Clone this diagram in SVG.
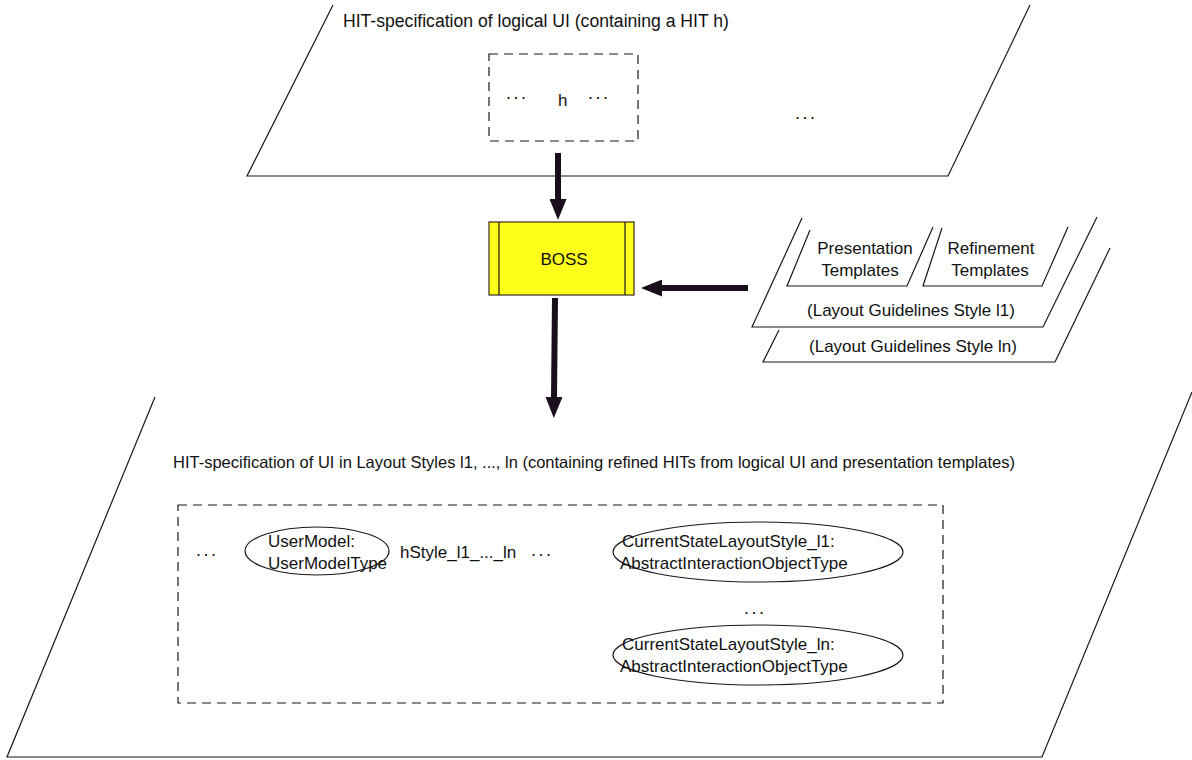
<svg xmlns="http://www.w3.org/2000/svg" width="1192" height="760" viewBox="0 0 1192 760">
<defs>
<style>
.ln{fill:none;stroke:#1e1420;stroke-width:1.2}
.dash{fill:none;stroke:#1e1420;stroke-width:1.2;stroke-dasharray:9,6}
.t{font-family:"Liberation Sans",Arial,sans-serif;font-size:17px;fill:#111}
.tc{font-family:"Liberation Sans",Arial,sans-serif;font-size:17px;fill:#111;text-anchor:middle}
.dots{font-family:"Liberation Sans",Arial,sans-serif;font-size:18px;fill:#111;letter-spacing:2.5px}
.arr{stroke:#1a0d1c;stroke-width:6;fill:none}
</style>
<marker id="ah" markerUnits="userSpaceOnUse" markerWidth="21" markerHeight="17" viewBox="0 0 21 17" refX="1" refY="8.5" orient="auto">
<path d="M0,0 L21,8.5 L0,17 z" fill="#1a0d1c"/>
</marker>
</defs>
<rect width="1192" height="760" fill="#fff"/>

<g id="logical-ui">
<polyline class="ln" points="333,5 247,176 948,176 1030,5"/>
<text class="t" x="343" y="27" style="font-size:17.6px">HIT-specification of logical UI (containing a HIT h)</text>
<rect class="dash" x="489" y="54" width="149" height="87"/>
<text class="dots" x="506" y="99">...</text>
<text class="t" x="558" y="106">h</text>
<text class="dots" x="588" y="99">...</text>
<text class="dots" x="795" y="119">...</text>
</g>

<g id="boss">
<rect x="489" y="222" width="145" height="73" fill="#ffff1a" stroke="#3a2a20" stroke-width="1.2"/>
<line class="ln" x1="499" y1="222" x2="499" y2="295"/>
<line class="ln" x1="625" y1="222" x2="625" y2="295"/>
<text class="tc" x="564" y="265">BOSS</text>
</g>

<g id="templates">
<polyline class="ln" points="1055,362 763,362 779,330"/>
<line class="ln" x1="1055" y1="362" x2="1110" y2="248"/>
<polyline class="ln" points="802,218 752,327 1043,327 1097,217" fill="#fff"/>
<polyline class="ln" points="810,230 787,286 907,286 933,227"/>
<polyline class="ln" points="942,228 923,286 1042,286 1068,227"/>
<text class="tc" x="865" y="254">Presentation</text>
<text class="tc" x="860" y="276">Templates</text>
<text class="tc" x="991" y="254">Refinement</text>
<text class="tc" x="990" y="276">Templates</text>
<text class="tc" x="911" y="316">(Layout Guidelines Style l1)</text>
<text class="tc" x="913" y="352">(Layout Guidelines Style ln)</text>
</g>

<g id="styled-ui">
<polyline class="ln" points="155,397 7,757 1042,757 1192,392"/>
<text class="t" x="173" y="468" style="font-size:16.5px">HIT-specification of UI in Layout Styles l1, ..., ln  (containing refined HITs from logical UI and presentation templates)</text>
<rect class="dash" x="178" y="505" width="765" height="198"/>
<text class="dots" x="196" y="556">...</text>
<text class="t" x="400" y="558">hStyle_l1_..._ln</text>
<text class="dots" x="531" y="556">...</text>
<text class="dots" x="744" y="614">...</text>
</g>

<g id="usermodel">
<ellipse class="ln" cx="317" cy="551" rx="72" ry="24"/>
<text class="t" x="268" y="547">UserModel:</text>
<text class="t" x="268" y="569">UserModelType</text>
</g>

<g id="state-l1">
<ellipse class="ln" cx="758" cy="552" rx="145" ry="30"/>
<text class="t" x="622" y="547">CurrentStateLayoutStyle_l1:</text>
<text class="t" x="620" y="569">AbstractInteractionObjectType</text>
</g>

<g id="state-ln">
<ellipse class="ln" cx="758" cy="655" rx="145" ry="30"/>
<text class="t" x="622" y="650">CurrentStateLayoutStyle_ln:</text>
<text class="t" x="620" y="672">AbstractInteractionObjectType</text>
</g>

<g id="connectors">
<line class="arr" x1="558" y1="153" x2="558" y2="200" marker-end="url(#ah)"/>
<line class="arr" x1="555" y1="298" x2="554" y2="398" marker-end="url(#ah)"/>
<line class="arr" x1="748" y1="288" x2="661" y2="288" marker-end="url(#ah)"/>
</g>
</svg>
